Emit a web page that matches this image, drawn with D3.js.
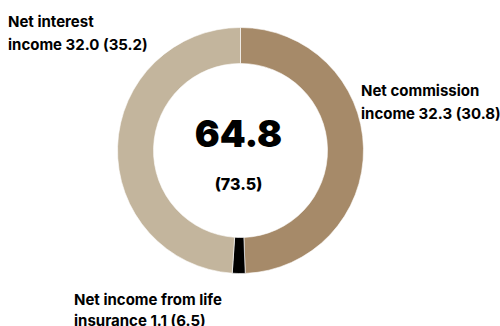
<!DOCTYPE html>
<html>
<head>
<meta charset="utf-8">
<script src="https://cdn.jsdelivr.net/npm/d3@7"></script>
<style>
  body { margin: 0; background: #fff; }
  text { font-family: Inter, "Open Sans", sans-serif; font-weight: 700; fill: #000; }
</style>
</head>
<body>
<svg id="chart" width="500" height="326"></svg>
<script>
// slices, clockwise from 12 o'clock
var categories = ["Net commission income", "Net income from life insurance", "Net interest income"];
var values = [32.3, 1.1, 32.0];
var prevValues = [30.8, 6.5, 35.2];
var colors = ["#a68a69", "#000000", "#c3b59d"];
var totalNow = "64.8", totalPrev = "(73.5)";

var labelLines = [
  ["Net commission", "income 32.3 (30.8)"],
  ["Net income from life", "insurance 1.1 (6.5)"],
  ["Net interest", "income 32.0 (35.2)"]
];
var labelPos = [[361, 96, 23], [74, 305, 21], [8, 27, 23]];

var svg = d3.select("#chart");
var cx = 240.5, cy = 150.5, outerR = 123, innerR = 87;

var pie = d3.pie().sort(null).value(function(d) { return d; });
var arc = d3.arc().innerRadius(innerR).outerRadius(outerR);

var g = svg.append("g").attr("transform", "translate(" + cx + "," + cy + ")");

g.selectAll("path")
  .data(pie(values))
  .enter().append("path")
  .attr("d", arc)
  .attr("fill", function(d, i) { return colors[i]; })
  .attr("stroke", "#fff")
  .attr("stroke-width", 0.6);

// centre total
g.append("text")
  .attr("text-anchor", "middle")
  .attr("x", -2)
  .attr("y", -4)
  .style("font-size", "37px")
  .style("font-weight", 900)
  .text(totalNow);

g.append("text")
  .attr("text-anchor", "middle")
  .attr("x", -2)
  .attr("y", 39)
  .style("font-size", "16px")
  .style("font-weight", 800)
  .text(totalPrev);

// slice labels
labelLines.forEach(function(lines, i) {
  var t = svg.append("text")
    .attr("x", labelPos[i][0])
    .attr("y", labelPos[i][1])
    .style("font-size", "15px");
  lines.forEach(function(l, j) {
    t.append("tspan")
      .attr("x", labelPos[i][0])
      .attr("dy", j === 0 ? 0 : labelPos[i][2])
      .text(l);
  });
});
</script>
</body>
</html>
